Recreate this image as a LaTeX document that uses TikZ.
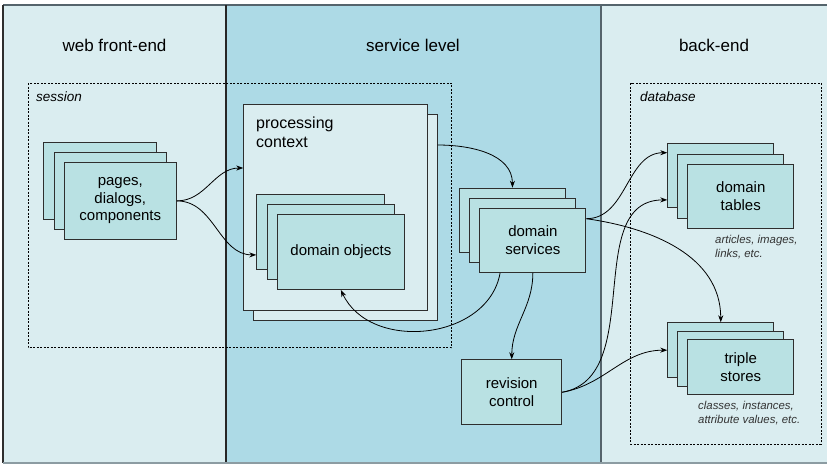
\documentclass[tikz,border=0pt]{standalone}
\usepackage{fontspec}
\setmainfont{Liberation Sans}
\usetikzlibrary{arrows.meta,calc}
\definecolor{collight}{HTML}{DAEDF0}
\definecolor{colmid}{HTML}{ADDAE6}
\definecolor{boxfill}{HTML}{B9E1E3}
\definecolor{boxline}{HTML}{2E2E2E}
\definecolor{divline}{HTML}{55646C}
\definecolor{botline}{HTML}{8C9CA2}
\newcommand{\mystack}[8]{%
  \node[sbox, minimum width=#4pt, minimum height=#5pt] (#1-b) at (#2,-#3) {};
  \node[sbox, minimum width=#4pt, minimum height=#5pt] (#1-m) at ({#2+#6},{-#3-#7}) {};
  \node[sbox, minimum width=#4pt, minimum height=#5pt, align=center, font=\boxfont] (#1) at ({#2+2*#6},{-#3-2*#7}) {#8};
}
\newcommand{\boxfont}{\fontsize{15}{17.5}\selectfont}
\begin{document}
\begin{tikzpicture}[x=1pt,y=1pt,
  sbox/.style={draw=boxline, fill=boxfill, line width=0.9pt, inner sep=0pt, anchor=north west},
  pbox/.style={draw=boxline, fill=collight, line width=0.9pt, inner sep=0pt, anchor=north west},
  zone/.style={draw=black, line width=0.7pt, dash pattern=on 2pt off 1.5pt},
  title/.style={font=\fontsize{17}{20}\selectfont},
  zlabel/.style={font=\fontsize{13.5}{16}\selectfont\itshape, anchor=west, inner sep=0pt},
  captext/.style={font=\fontsize{11.4}{14.5}\selectfont\itshape, text=black!80, anchor=north west, align=left, inner sep=0pt},
  conn/.style={-{Stealth[length=7pt,width=5pt]}, line width=0.8pt, black}]
\useasboundingbox (0,0) rectangle (827,-464);
% columns
\fill[collight] (3,-5) rectangle (827,-463);
\fill[colmid] (226,-5) rectangle (600.7,-463);
\draw[line width=1.5pt, divline] (3,-5) -- (827,-5);
\draw[line width=1.2pt, boxline] (3,-5) -- (3,-463);
\draw[line width=1.3pt, black!85] (226,-5) -- (226,-463);
\draw[line width=2pt, divline] (600.7,-5) -- (600.7,-463);
\draw[line width=1.5pt, botline] (3,-463) -- (827,-463);
% titles
\node[title] (t1) at (114.5,-45) {web front-end};
\node[title] (t2) at (413,-45) {service level};
\node[title] (t3) at (714,-45) {back-end};
% zones
\draw[zone] (28,-83) rectangle (451.5,-347.5);
\node[zlabel] (lsession) at (36,-97) {session};
\draw[zone] (630.7,-83) rectangle (821,-444);
\node[zlabel] (ldatabase) at (640,-97) {database};
% pages stack
\mystack{pages}{43.3}{141.7}{112.3}{77.5}{10.2}{10}{pages,\\dialogs,\\components}
% processing context
\node[pbox, minimum width=183.4pt, minimum height=206.3pt] (proc-b) at (253.3,-114) {};
\node[pbox, minimum width=183.4pt, minimum height=206.3pt] (proc) at (243.3,-104) {};
\node[anchor=north west, align=left, inner sep=0pt, font=\fontsize{16}{18.5}\selectfont] (proctxt) at (256,-117) {processing\\context};
% domain objects
\mystack{dob}{256.3}{193.7}{127.5}{75}{10.2}{10.2}{domain objects}
% domain services
\mystack{dserv}{459}{187.7}{106}{64.3}{10.2}{10}{domain\\services}
% domain tables
\mystack{dtab}{667.3}{143.3}{106}{64}{10}{10.3}{domain\\tables}
\node[captext] (cap1) at (715,-235) {articles, images,\\links, etc.};
% triple stores
\mystack{trip}{667.3}{322.3}{106}{54.8}{10}{8.5}{triple\\stores}
\node[captext] (cap2) at (698,-401) {classes, instances,\\attribute values, etc.};
% revision control
\node[sbox, minimum width=100pt, minimum height=65pt, align=center, font=\boxfont] (rev) at (461.3,-359.3) {revision\\control};
% connectors
\coordinate (pcin) at ([yshift=-64pt]proc.north west);
\coordinate (dobin) at ([yshift=14.7pt]dob-b.south west);
\coordinate (pcout) at ([yshift=-31pt]proc-b.north east);
\coordinate (dsout) at ([yshift=-11pt]dserv.north east);
\coordinate (dsdown1) at ([xshift=20.7pt]dserv.south west);
\coordinate (dtin1) at ([yshift=-9.4pt]dtab-b.north west);
\coordinate (dtin2) at ([yshift=8.3pt]dtab-b.south west);
\draw[conn] (pages.east) to[out=0,in=180] (pcin);
\draw[conn] (pages.east) to[out=0,in=180] (dobin);
\draw[conn] (pcout) to[out=0,in=90] (dserv-b.north);
\draw[conn] (dsout) to[out=0,in=180] (dtin1);
\draw[conn] (dsout) to[out=-8,in=90] (trip-b.north);
\draw[conn] (dsdown1) to[out=-100,in=-65,looseness=1.1] (dob.south);
\draw[conn] (dserv.south) to[out=-90,in=90] (rev.north);
\draw[conn] (rev.east) to[out=10,in=180] (dtin2);
\draw[conn] (rev.east) to[out=10,in=180] (trip-b.west);
\end{tikzpicture}
\end{document}
